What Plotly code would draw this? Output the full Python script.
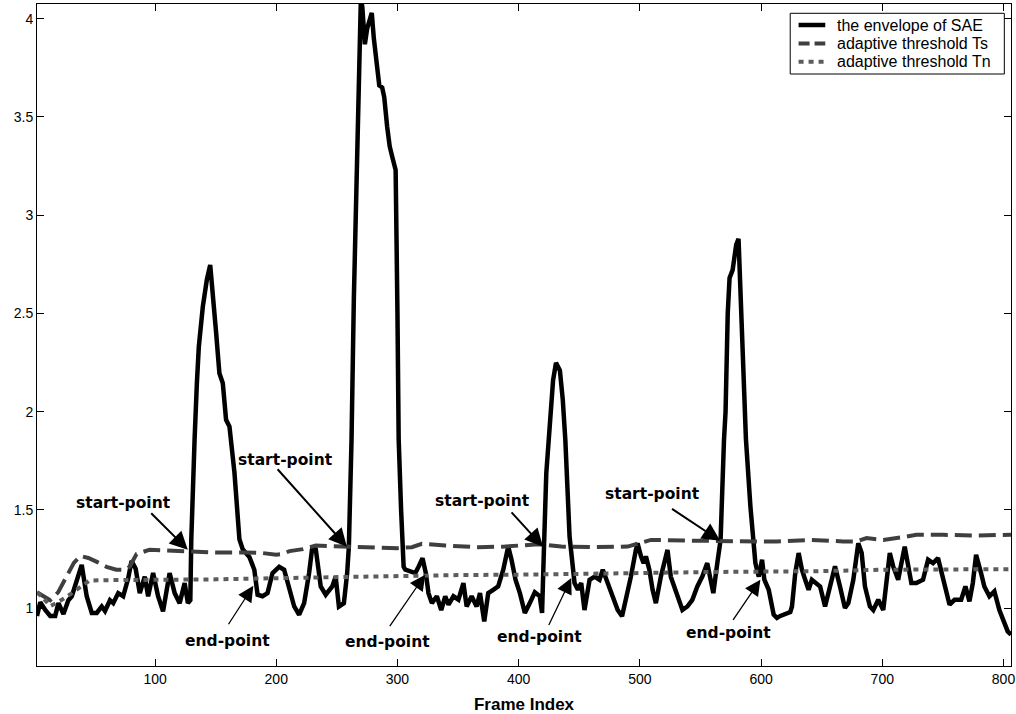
import plotly.graph_objects as go

# ---------------- data ----------------
sae_frame = [2.6, 5.3, 9.4, 13.5, 17.6, 20.3, 24.4, 28.5, 31.3, 35.4, 39.5, 43.6, 47.8, 51.9, 56, 58.7,
             62.8, 65.5, 69.6, 73.7, 77.8, 80.6, 84, 87.4, 91.5, 94.3, 98.4, 102.5, 106.6, 112, 116.2,
             120.3, 124.4, 127.1, 129.1, 129.9, 131.2, 132.6, 134.5, 136.1, 139.4, 142.7, 145.5, 147.6,
             150.4, 153.1, 155.9, 158.6, 161.4, 165.5, 169.6, 172.3, 177.8, 181.9, 183.3, 184.6, 188.7,
             192.8, 196.9, 202.4, 206.5, 210.6, 214.8, 218.9, 223, 227.1, 229.8, 232.6, 236.7, 240.8,
             246.2, 249, 251.7, 255.8, 258.5, 259.9, 261.3, 262.1, 264, 265.4, 266.8, 267.6, 268.7,
             269.8, 271, 273.1, 275, 277, 278.8, 280.5, 282.9, 285, 287.4, 289.1, 291.5, 293.6, 296,
             298.5, 300, 301, 303, 305.1, 306.5, 310.6, 314.7, 317.4, 320.7, 323.4, 325.6, 328.4,
             332.5, 336.1, 339.4, 342.1, 346.2, 350.3, 354.4, 357.1, 361.2, 365.3, 368.1, 371.6,
             374.9, 379, 383.1, 387.3, 391.4, 394.1, 397.4, 401, 405.1, 409.2, 413.3, 417.4, 419.3,
             420.9, 422.8, 424.8, 426.7, 428.4, 430.8, 434, 436.4, 438.5, 442, 444.8, 446.1, 448.9,
             451.6, 454.3, 458.5, 462.6, 466.7, 469.4, 473.5, 477.6, 481.7, 485.3, 488.5, 492.6,
             496.7, 498.1, 500.9, 503.1, 505, 507.8, 510.5, 513.2, 517.3, 522.8, 525.5, 528.3, 531,
             535.1, 539.2, 543.3, 547.4, 551.5, 555.6, 558.4, 560.6, 563.9, 566.6, 569.4, 570.7,
             572.5, 574, 576.5, 579.5, 581.4, 583.5, 585.5, 587.5, 591.2, 595.3, 598.1, 600.8, 602.7,
             606.3, 610.4, 613.1, 615.9, 621.4, 624.1, 625.5, 628.2, 631, 633.7, 636.4, 639.2, 641.9,
             645.4, 648.7, 652.8, 656.9, 661, 665.1, 669.2, 672, 676.1, 680.2, 683, 685.7, 689.8,
             692.6, 696.7, 700.8, 703.5, 706.2, 709, 713.1, 718.5, 721.3, 724, 728.1, 733.6, 737.8,
             741.9, 746, 750.1, 755.5, 759.6, 765.1, 768.6, 771.9, 774.7, 777.4, 781.5, 784.2, 788.4,
             792.5, 796.6, 800.7, 803.5, 806.2]
sae_value = [0.96, 1.03, 0.99, 0.96, 0.96, 1.025, 0.97, 1.04, 1.06, 1.14, 1.22, 1.06, 0.975, 0.975, 1.008, 0.985,
             1.04, 1.025, 1.076, 1.06, 1.15, 1.24, 1.2, 1.076, 1.16, 1.06, 1.178, 1.06, 0.983, 1.178, 1.076,
             1.025, 1.127, 1.025, 1.04, 1.35, 1.69, 1.856, 2.144, 2.33, 2.534, 2.67, 2.746, 2.62,
             2.40, 2.195, 2.144, 1.958, 1.924, 1.69, 1.35, 1.30, 1.26, 1.195, 1.127, 1.068, 1.06,
             1.076, 1.178, 1.21, 1.195, 1.093, 1.008, 0.966, 1.025, 1.178, 1.313, 1.30, 1.11, 1.068,
             1.11, 1.16, 1.008, 1.025, 1.178, 1.313, 1.60, 1.856, 2.57, 2.91, 3.16, 3.50, 3.755,
             4.1, 4.06, 3.87, 3.95, 4.0, 4.03, 3.9, 3.75, 3.66, 3.65, 3.6, 3.45, 3.35, 3.29,
             3.23, 2.5, 1.86, 1.5, 1.21, 1.195, 1.186, 1.178, 1.21, 1.254, 1.178, 1.076, 1.025,
             1.06, 0.99, 1.06, 1.017, 1.06, 1.043, 1.127, 1.008, 1.06, 1.008, 1.076, 0.932,
             1.076, 1.093, 1.11, 1.195, 1.313, 1.246, 1.144, 1.076, 0.975, 1.025, 1.08, 1.06, 0.975,
             1.313, 1.687, 1.856, 2.06, 2.16, 2.248, 2.21, 2.06, 1.856, 1.364, 1.16, 1.127, 1.093,
             1.127, 0.99, 1.144, 1.16, 1.144, 1.195, 1.127, 1.06, 0.99, 0.958, 1.042, 1.16,
             1.296, 1.33, 1.263, 1.229, 1.263, 1.195, 1.093, 1.025, 1.16, 1.296, 1.16, 1.11, 1.06,
             0.99, 1.008, 1.042, 1.11, 1.16, 1.229, 1.127, 1.076, 1.229, 1.347, 1.856, 2.0,
             2.5, 2.68, 2.72, 2.85, 2.88, 2.55, 2.2, 1.86, 1.517, 1.229, 1.16, 1.246, 1.144,
             1.093, 0.966, 0.95, 0.96, 0.975, 0.98, 1.008, 1.178, 1.28, 1.195, 1.144, 1.093, 1.144,
             1.127, 1.11, 1.008, 1.11, 1.212, 1.11, 1.0, 1.025, 1.144, 1.33, 1.28, 1.11, 1.008,
             0.99, 1.042, 0.99, 1.144, 1.28, 1.212, 1.144, 1.313, 1.229, 1.127, 1.127, 1.144, 1.246,
             1.229, 1.254, 1.144, 1.017, 1.042, 1.042, 1.11, 1.034, 1.127, 1.271, 1.178, 1.11, 1.06,
             1.085, 0.99, 0.924, 0.881, 0.864]

ts_frame = [2.6, 8, 13.5, 20, 27, 33, 38.5, 45, 52, 60, 68, 75, 79, 84.7, 95.6, 112, 128.5, 150, 175,
            188.7, 200, 205, 211, 222, 232.6, 245, 260, 284.6, 300, 311.9, 320.1, 339.4, 366.7, 388.6,
            407.8, 416, 435.1, 462.6, 489.9, 500.9, 509.1, 544.7, 572.1, 599.4, 613.1, 640.5, 667.9,
            678.8, 687.1, 700.8, 717.2, 728.1, 750.1, 777.4, 806.2]
ts_value = [1.08, 1.06, 1.04, 1.08, 1.16, 1.23, 1.265, 1.255, 1.235, 1.21, 1.195, 1.195, 1.21, 1.275, 1.297,
            1.292, 1.285, 1.283, 1.283, 1.28, 1.272, 1.275, 1.29, 1.30, 1.318, 1.315, 1.31, 1.305, 1.305,
            1.31, 1.327, 1.318, 1.31, 1.313, 1.322, 1.325, 1.313, 1.31, 1.313, 1.33, 1.347, 1.343, 1.339,
            1.339, 1.339, 1.347, 1.339, 1.339, 1.356, 1.347, 1.361, 1.373, 1.373, 1.369, 1.373]

tn_frame = [2.6, 8, 13.5, 20, 30, 40, 46, 60, 100, 150, 200, 230, 260, 300, 350, 400, 450, 500, 550,
            600, 650, 700, 750, 806.2]
tn_value = [1.08, 1.05, 1.01, 1.03, 1.07, 1.115, 1.14, 1.142, 1.143, 1.146, 1.152, 1.156, 1.16, 1.165,
            1.168, 1.17, 1.172, 1.178, 1.183, 1.185, 1.188, 1.195, 1.198, 1.198]

series_names = ["the envelope of SAE", "adaptive threshold Ts", "adaptive threshold Tn"]

x_tick_values = [100, 200, 300, 400, 500, 600, 700, 800]
y_tick_values = [1, 1.5, 2, 2.5, 3, 3.5, 4]
y_tick_labels = ["1", "1.5", "2", "2.5", "3", "3.5", "4"]

# annotation anchors (frame, value): arrow head, arrow tail, label centre
start_heads = [(127.0, 1.297), (258.3, 1.312), (420.1, 1.312), (566.3, 1.342)]
start_tails = [(95.6, 1.49), (200.0, 1.714), (393.0, 1.495), (525.3, 1.51)]
start_texts = [(74.3, 1.536), (207.4, 1.754), (370.0, 1.546), (510.5, 1.58)]
end_heads = [(181.1, 1.113), (322.9, 1.17), (443.4, 1.153), (599.4, 1.144)]
end_tails = [(159.8, 0.91), (292.8, 0.9), (424.3, 0.906), (576.1, 0.932)]
end_texts = [(159.8, 0.834), (292.0, 0.829), (416.9, 0.855), (572.8, 0.874)]

# ---------------- styles ----------------
W, H = 1016, 714
M_L, M_R, M_T, M_B = 37, 1, 4, 48
PLOT_W = W - M_L - M_R
PLOT_H = H - M_T - M_B


def px_x(px):
    return (px - M_L) / PLOT_W


def px_y(py):
    return (H - M_B - py) / PLOT_H


line_styles = [dict(color="black", width=4.5),
               dict(color="#3f3f3f", width=4, dash="17px,7px"),
               dict(color="#5c5c5c", width=4, dash="5px,5px")]
legend_sample_styles = [dict(color="black", width=4.5),
                        dict(color="#3f3f3f", width=4, dash="11px,5px"),
                        dict(color="#5c5c5c", width=4, dash="5px,5px")]

# ---------------- figure ----------------
fig = go.Figure()
for fx, fy, nm, st in zip([sae_frame, ts_frame, tn_frame], [sae_value, ts_value, tn_value],
                          series_names, line_styles):
    fig.add_trace(go.Scatter(x=fx, y=fy, mode="lines", name=nm, line=st, showlegend=False))

ann = []
shapes = []
label_font = dict(family="DejaVu Sans", size=15.5, color="black")
for (hx, hy), (tx, ty), (lx, ly) in zip(start_heads, start_tails, start_texts):
    ann.append(dict(x=hx, y=hy, ax=tx, ay=ty, xref="x", yref="y", axref="x", ayref="y",
                    text="", showarrow=True, arrowhead=2, arrowsize=1.8, arrowwidth=2,
                    arrowcolor="black"))
    ann.append(dict(x=lx, y=ly, xref="x", yref="y", text="<b>start-point</b>",
                    showarrow=False, font=label_font))
for (hx, hy), (tx, ty), (lx, ly) in zip(end_heads, end_tails, end_texts):
    ann.append(dict(x=hx, y=hy, ax=tx, ay=ty, xref="x", yref="y", axref="x", ayref="y",
                    text="", showarrow=True, arrowhead=2, arrowsize=2.4, arrowwidth=1.3,
                    arrowcolor="black"))
    ann.append(dict(x=lx, y=ly, xref="x", yref="y", text="<b>end-point</b>",
                    showarrow=False, font=label_font))

# legend box (drawn to match the reference's compact MATLAB legend)
shapes.append(dict(type="rect", xref="paper", yref="paper",
                   x0=px_x(793.3), x1=px_x(1008.3), y0=px_y(74), y1=px_y(13.3),
                   line=dict(color="black", width=1), fillcolor="white", layer="above"))
for i, (nm, st) in enumerate(zip(series_names, legend_sample_styles)):
    row_y = px_y(25 + i * 18.4)
    shapes.append(dict(type="line", xref="paper", yref="paper",
                       x0=px_x(801.7), x1=px_x(828.5), y0=row_y, y1=row_y,
                       line=st, layer="above"))
    ann.append(dict(x=px_x(838.5), y=row_y, xref="paper", yref="paper", text=nm,
                    showarrow=False, xanchor="left", yanchor="middle",
                    font=dict(family="Liberation Sans", size=16, color="black")))

axis_common = dict(showline=True, linecolor="black", linewidth=1, mirror="ticks",
                   ticks="inside", ticklen=7, tickcolor="black", showgrid=False, zeroline=False,
                   ticklabeloverflow="allow",
                   tickfont=dict(family="Liberation Sans", size=14, color="black"))

fig.update_layout(
    width=W, height=H,
    margin=dict(l=M_L, r=M_R, t=M_T, b=M_B),
    paper_bgcolor="white", plot_bgcolor="white",
    annotations=ann,
    shapes=shapes,
    showlegend=False,
    xaxis=dict(range=[2.6, 806.2], tickvals=x_tick_values,
               title=dict(text="<b>Frame Index</b>", standoff=13,
                          font=dict(family="Liberation Sans", size=17, color="black")),
               **axis_common),
    yaxis=dict(range=[0.705, 4.075], tickvals=y_tick_values, ticktext=y_tick_labels,
               **axis_common),
)

fig.write_html("out.html")
